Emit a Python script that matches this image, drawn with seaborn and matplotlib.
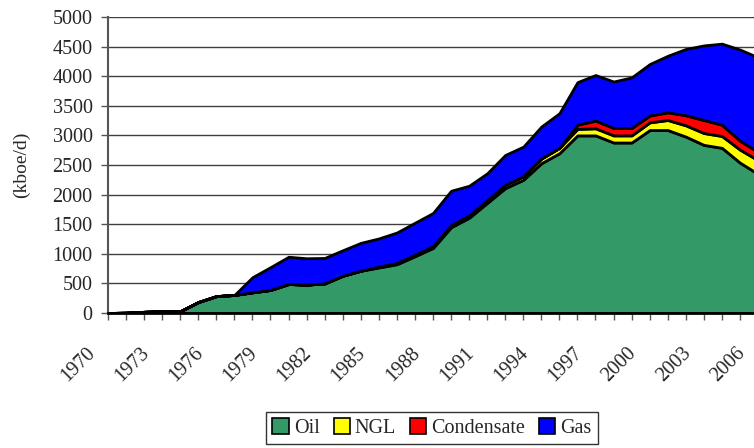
import numpy as np
import seaborn as sns
from matplotlib import pyplot as plt
from matplotlib.patches import Patch
from matplotlib.transforms import ScaledTranslation

years = list(range(1970, 2007))

oil = [0, 5, 20, 30, 30, 185, 285, 305, 350, 390,
       490, 480, 500, 630, 715, 770, 825, 960, 1100, 1450,
       1610, 1860, 2110, 2250, 2530, 2700, 3000, 3000, 2880, 2880,
       3090, 3090, 2980, 2840, 2790, 2540, 2350]
ngl = [0, 0, 0, 0, 0, 0, 0, 0, 0, 0,
       0, 0, 0, 0, 0, 15, 20, 25, 30, 35,
       40, 45, 55, 60, 80, 90, 110, 120, 120, 120,
       130, 170, 190, 200, 200, 220, 230]
condensate = [0, 0, 0, 0, 0, 0, 0, 0, 0, 0,
              0, 0, 0, 0, 0, 0, 0, 0, 0, 0,
              0, 0, 0, 0, 0, 0, 70, 130, 125, 125,
              115, 130, 170, 220, 190, 150, 140]
gas = [0, 0, 0, 0, 0, 0, 0, 0, 255, 385,
       460, 445, 430, 430, 470, 475, 515, 540, 560, 580,
       500, 455, 505, 500, 540, 585, 720, 770, 785, 855,
       870, 955, 1120, 1260, 1370, 1540, 1600]

labels = ['Oil', 'NGL', 'Condensate', 'Gas']
colors = ['#339966', '#FFFF00', '#FF0000', '#0000FF']

sns.set_style('white')
plt.rcParams['font.family'] = ['Liberation Serif', 'DejaVu Serif']

fig = plt.figure(figsize=(7.54, 4.48), dpi=100)
ax = fig.add_axes([108 / 754, 1 - 313 / 448, 650 / 754, 296 / 448])

ax.stackplot(years, oil, ngl, condensate, gas, colors=colors,
             edgecolor='black', linewidth=2, zorder=3)

ax.set_xlim(1970, 2006)
ax.set_ylim(0, 5000)
ax.set_yticks(np.arange(0, 5001, 500))
ax.yaxis.grid(True, color='#404040', linewidth=1)
ax.set_axisbelow(True)

ax.set_xticks(years, minor=True)
ax.set_xticks(years[::3])
ax.set_xticklabels([str(y) for y in years[::3]], rotation=45, ha='right',
                   va='center', rotation_mode='anchor')
ax.tick_params(axis='x', which='both', direction='out', length=5, width=1,
               color='#555555', bottom=True, labelsize=14.5, pad=22)
ax.tick_params(axis='y', direction='out', length=5, width=1, color='#555555',
               left=True, labelsize=14.5, pad=6)

# shift the slanted year labels left, as in the original
shift = ScaledTranslation(-16 / 100, 0, fig.dpi_scale_trans)
for lab in ax.get_xticklabels():
    lab.set_transform(lab.get_transform() + shift)

for s in ['top', 'right']:
    ax.spines[s].set_visible(False)
ax.spines['left'].set_color('#555555')
ax.spines['left'].set_linewidth(1.5)
ax.spines['bottom'].set_color('black')
ax.spines['bottom'].set_linewidth(2)
ax.spines['bottom'].set_zorder(4)

ax.set_ylabel('(kboe/d)', fontsize=14)
ax.yaxis.set_label_coords(-0.12, 0.5)

handles = [Patch(facecolor=c, edgecolor='black', linewidth=1.2) for c in colors]
leg = fig.legend(handles, labels, loc='upper center', bbox_to_anchor=(0.573, 0.08),
                 ncol=4, fontsize=14.5, frameon=True, fancybox=False,
                 handlelength=0.8, handleheight=0.8, handletextpad=0.25,
                 columnspacing=0.7, borderpad=0.3, borderaxespad=0)
leg.get_frame().set_edgecolor('black')
leg.get_frame().set_linewidth(1)

fig.savefig('out.png', dpi=100)
